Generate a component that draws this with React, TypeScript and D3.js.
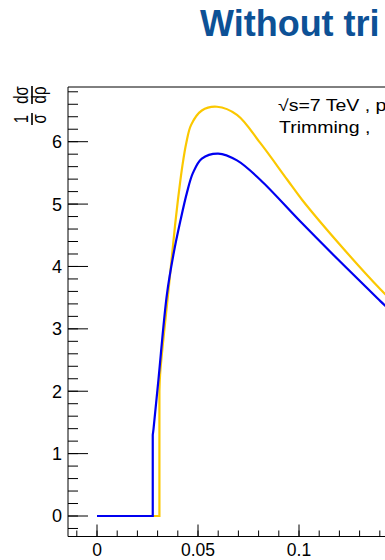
import React from "react";
import * as d3 from "d3";

const W = 385;
const H = 560;

// Blue curve
const blueX = [0, 0.0276, 0.0276, 0.028, 0.0304, 0.0346, 0.038, 0.0412, 0.0445, 0.0475, 0.0519, 0.06, 0.0693, 0.0808, 0.1007, 0.1172, 0.1338, 0.1404, 0.146];
const blueY = [0, 0, 1.3, 1.4, 2.18, 3.55, 4.22, 4.72, 5.18, 5.5, 5.73, 5.81, 5.7, 5.39, 4.72, 4.18, 3.65, 3.44, 3.27];

// Yellow curve
const yellowX = [0, 0.0309, 0.0309, 0.0313, 0.0354, 0.0387, 0.0405, 0.0423, 0.0442, 0.0466, 0.0519, 0.0594, 0.0693, 0.0808, 0.0942, 0.1015, 0.1205, 0.1404, 0.146];
const yellowY = [0, 0, 2.0, 2.3, 3.62, 4.68, 5.18, 5.62, 5.98, 6.27, 6.5, 6.56, 6.43, 5.98, 5.39, 5.07, 4.34, 3.63, 3.45];

const xMajorTicks = [0, 0.05, 0.1];
const xTickLabels = ["0", "0.05", "0.1"];
const yMajorTicks = [0, 1, 2, 3, 4, 5, 6];
const yTickLabels = ["0", "1", "2", "3", "4", "5", "6"];

const titleText = "Without tri";
const annot1 = "\u221As=7 TeV , p";
const annot2 = "Trimming ,";

const xDomain = [0, 0.05];
const yDomain = [0, 6];

export default function App() {
  const x = d3.scaleLinear().domain(xDomain).range([97, 198]);
  const y = d3.scaleLinear().domain(yDomain).range([516, 141.7]);

  const frameLeft = 68;
  const frameTop = 87;
  const frameBottom = 536.5;
  const xMin = x.invert(frameLeft);
  const xMax = x.invert(W + 20);
  const yMin = y.invert(frameBottom);
  const yMax = y.invert(frameTop);

  const makePath = (xs: number[], ys: number[]) => {
    const pts: [number, number][] = xs.map((v, i) => [x(v), y(ys[i])]);
    const linPart = pts.slice(0, 3);
    const curvePart = pts.slice(2);
    const lin = d3.line().curve(d3.curveLinear)(linPart) || "";
    const cur = d3.line().curve(d3.curveCatmullRom.alpha(0.5))(curvePart) || "";
    return lin + cur.replace(/^M/, "L");
  };

  const xMinor = d3.range(Math.ceil(xMin / 0.01) * 0.01, xMax, 0.01);
  const yMinor = d3.range(Math.ceil(yMin / 0.2) * 0.2, yMax, 0.2);

  const font = "'Liberation Sans', Arial, Helvetica, sans-serif";

  return (
    <svg width={W} height={H} style={{ position: "absolute", left: 0, top: 0 }} fontFamily={font}>
      <rect x={0} y={0} width={W} height={H} fill="#fff" />
      {/* Title */}
      <text x={200} y={36} fontSize={36} fontWeight="bold" fill="#0d5196">{titleText}</text>

      {/* Frame */}
      <line x1={frameLeft} y1={frameTop} x2={W + 5} y2={frameTop} stroke="#000" strokeWidth={1} />
      <line x1={frameLeft} y1={frameTop} x2={frameLeft} y2={frameBottom} stroke="#000" strokeWidth={1} />
      <line x1={frameLeft} y1={frameBottom} x2={W + 5} y2={frameBottom} stroke="#000" strokeWidth={1} />

      {/* Y ticks */}
      {yMinor.map((v, i) => (
        <line key={"ym" + i} x1={frameLeft} x2={frameLeft + 10} y1={y(v)} y2={y(v)} stroke="#000" strokeWidth={1} />
      ))}
      {yMajorTicks.map((v, i) => (
        <g key={"yM" + i}>
          <line x1={frameLeft} x2={frameLeft + 20} y1={y(v)} y2={y(v)} stroke="#000" strokeWidth={1} />
          <text x={62} y={y(v)} dy="0.36em" textAnchor="end" fontSize={18} fill="#000">{yTickLabels[i]}</text>
        </g>
      ))}

      {/* X ticks */}
      {xMinor.map((v, i) => (
        <line key={"xm" + i} x1={x(v)} x2={x(v)} y1={frameBottom} y2={frameBottom - 6} stroke="#000" strokeWidth={1} />
      ))}
      {xMajorTicks.map((v, i) => (
        <g key={"xM" + i}>
          <line x1={x(v)} x2={x(v)} y1={frameBottom} y2={frameBottom - 12} stroke="#000" strokeWidth={1} />
          <text x={x(v)} y={555.5} textAnchor="middle" fontSize={17.5} fill="#000">{xTickLabels[i]}</text>
        </g>
      ))}

      {/* Curves */}
      <path d={makePath(yellowX, yellowY)} fill="none" stroke="#fbc800" strokeWidth={2.2} />
      <path d={makePath(blueX, blueY)} fill="none" stroke="#0000f0" strokeWidth={2.2} />

      {/* Annotations */}
      <text x={278} y={111} fontSize={16} fill="#000" transform="translate(278,0) scale(1.22,1) translate(-278,0)">{annot1}</text>
      <text x={279} y={133} fontSize={16} fill="#000" transform="translate(279,0) scale(1.22,1) translate(-279,0)">{annot2}</text>

      {/* Y axis title: 1/sigma dsigma/drho rotated */}
      <g transform="translate(32,105) rotate(-90)" fill="#000">
        <g transform="scale(1,1.35)">
          <text x={-14} y={-3} textAnchor="middle" fontSize={15}>1</text>
          <line x1={-20} x2={-8} y1={0} y2={0} stroke="#000" strokeWidth={1.2} />
          <text x={-14} y={10} textAnchor="middle" fontSize={15}>σ</text>
          <text x={10} y={-3} textAnchor="middle" fontSize={15}>dσ</text>
          <line x1={1} x2={19} y1={0} y2={0} stroke="#000" strokeWidth={1.2} />
          <text x={10} y={10} textAnchor="middle" fontSize={15}>dρ</text>
        </g>
      </g>
    </svg>
  );
}
